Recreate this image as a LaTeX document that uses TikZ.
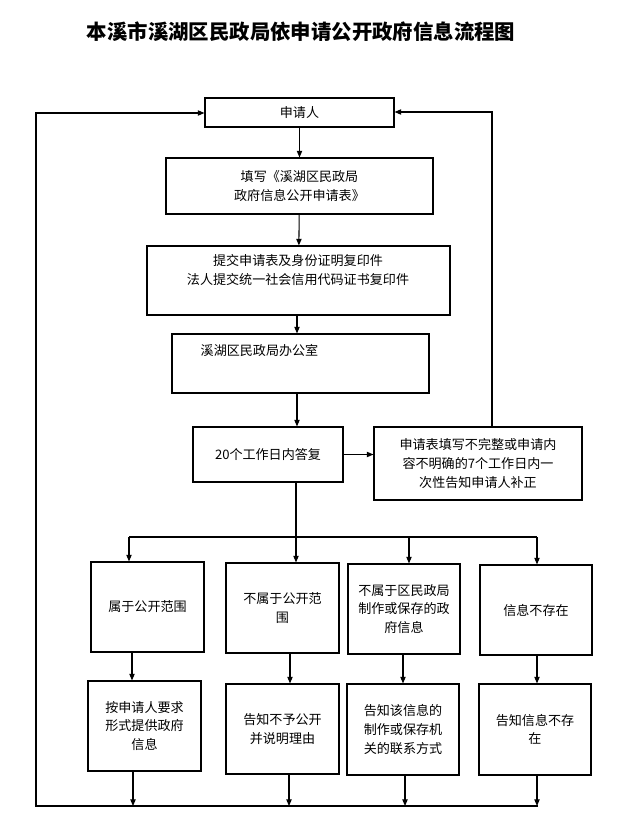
\documentclass[tikz,border=0pt]{standalone}
\usepackage{fontspec}
\newfontfamily\cjk{Noto Sans CJK SC}
\usetikzlibrary{arrows.meta}
\begin{document}
\begin{tikzpicture}[x=0.75pt,y=-0.75pt,
  box/.style={draw,thick,inner sep=0pt,font=\cjk\fontsize{9.8}{14}\selectfont,align=center},
  ar/.style={draw,thick,-{Triangle[length=5pt,width=4pt]}},
  ln/.style={draw,thick}]
\useasboundingbox (0,0) rectangle (628,828);
\node[font=\cjk\bfseries\fontsize{15.3}{18}\selectfont] (title) at (301,32) {本溪市溪湖区民政局依申请公开政府信息流程图};
\newcommand\bx[6]{\node[box,minimum width=#4*0.75pt-#2*0.75pt,minimum height=#5*0.75pt-#3*0.75pt] (#1) at ({(#2+#4)/2},{(#3+#5)/2}) {#6};}
\bx{a}{205}{98}{394}{127}{申请人}
\bx{b}{166}{158}{433}{214}{填写《溪湖区民政局\\政府信息公开申请表》}
\bx{c}{147}{246}{450}{315}{}
\node[font=\cjk\fontsize{9.8}{14}\selectfont,align=center] (ct) at (298,270) {提交申请表及身份证明复印件\\法人提交统一社会信用代码证书复印件};
\bx{d}{172}{334}{429}{393}{}
\node[font=\cjk\fontsize{9.8}{14}\selectfont,anchor=west] (dt) at (196,350) {溪湖区民政局办公室};
\bx{e}{193}{427}{343}{482}{20个工作日内答复}
\bx{f}{374}{427}{582}{500}{申请表填写不完整或申请内\\容不明确的7个工作日内一\\次性告知申请人补正}
\bx{g1}{91}{562}{204}{652}{属于公开范围}
\bx{g2}{226}{563}{339}{653}{不属于公开范\\围}
\bx{g3}{348}{564}{460}{654}{不属于区民政局\\制作或保存的政\\府信息}
\bx{g4}{480}{565}{592}{655}{信息不存在}
\bx{h1}{88}{681}{201}{771}{按申请人要求\\形式提供政府\\信息}
\bx{h2}{226}{684}{339}{774}{告知不予公开\\并说明理由}
\bx{h3}{347}{684}{459}{775}{告知该信息的\\制作或保存机\\关的联系方式}
\bx{h4}{479}{684}{591}{775}{告知信息不存\\在}
\draw[ar] (a) -- (b);
\draw[ar] (b) -- (c);
\draw[ar] (c.south -| 297,0) -- (d.north -| 297,0);
\draw[ar] (d.south -| 297,0) -- (e.north -| 297,0);
\draw[ar] (e.east) -- (f.west |- e.east);
\draw[ar] (f.north -| 492,0) -- (492,112) -- (a.east |- 0,112);
\coordinate (j1) at (129,537); \coordinate (j4) at (537,537);
\draw[ln] (j1) -- (j4);
\draw[ar] (e.south -| 296,0) -- (g2.north -| 296,0);
\draw[ar] (j1) -- (g1.north -| j1);
\draw[ar] (409,537) -- (g3.north -| 409,0);
\draw[ar] (j4) -- (g4.north -| j4);
\draw[ar] (g1.south -| 132,0) -- (h1.north -| 132,0);
\draw[ar] (g2.south -| 290,0) -- (h2.north -| 290,0);
\draw[ar] (g3.south -| 403,0) -- (h3.north -| 403,0);
\draw[ar] (g4.south -| 537,0) -- (h4.north -| 537,0);
\coordinate (bl) at (36,806); \coordinate (br) at (538,806);
\draw[ar] (h1.south -| 133,0) -- (133,806);
\draw[ar] (h2.south -| 289,0) -- (289,806);
\draw[ar] (h3.south -| 405,0) -- (405,806);
\draw[ar] (h4.south -| 537,0) -- (537,806);
\draw[ar] (br) -- (bl) -- (36,113) -- (a.west |- 0,113);
\end{tikzpicture}
\end{document}
